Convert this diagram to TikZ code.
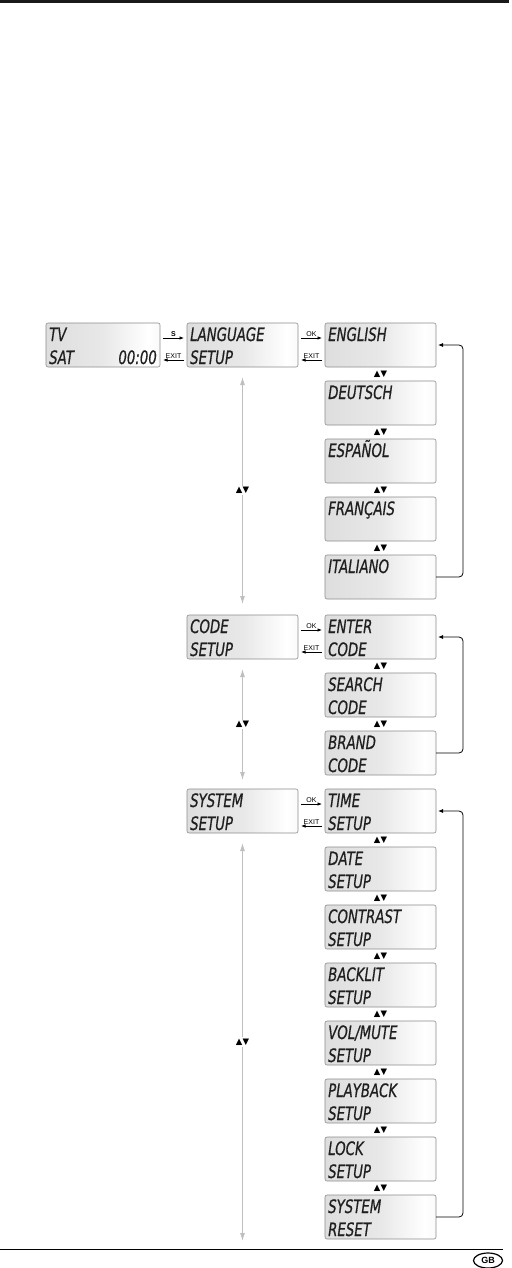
\documentclass[tikz,border=0pt]{standalone}
\usepackage{fontspec}
\setmainfont{Liberation Sans}
\newfontfamily\lcdfont[FakeStretch=0.72,FakeBold=0.6]{DejaVu Sans}
\newfontfamily\symfont{DejaVu Sans}
\usetikzlibrary{arrows.meta,shapes.geometric}
\pgfdeclarehorizontalshading{lcdshade}{100bp}{color(0bp)=(black!17); color(50bp)=(black!9); color(70bp)=(white); color(84bp)=(black!6); color(100bp)=(black!14)}
\tikzset{
  lcd/.style={draw=black!45, line width=0.6pt, rounded corners=2pt, shading=lcdshade,
    minimum width=111pt, minimum height=44pt, inner sep=0pt, outer sep=0pt, anchor=north west},
  lcdtext/.style={anchor=base west, inner sep=0pt, font=\lcdfont\itshape\fontsize{18.5}{18.5}\selectfont, text=black!88},
  updown/.style={inner sep=0pt, font=\symfont\fontsize{8.5}{8.5}\selectfont},
  keyarrow/.style={line width=0.7pt, -{Latex[length=4.5pt,width=3.5pt]}},
  keylabel/.style={inner sep=1pt, font=\fontsize{7}{7}\selectfont},
  grayarrow/.style={draw=black!25, line width=1pt, {Latex[length=8pt,width=5pt]}-{Latex[length=8pt,width=5pt]}},
  retarrow/.style={line width=0.8pt, rounded corners=4pt, -{Latex[length=5pt,width=4pt]}},
}
\newcommand\lcdbox[5]{%
  \node[lcd] (#1) at (#2,#3) {};
  \node[lcdtext] (#1-a) at ([shift={(3pt,-18pt)}]#1.north west) {#4};
  \node[lcdtext] (#1-b) at ([shift={(3pt,-41pt)}]#1.north west) {#5};
}
\newcommand\udlabel[2]{% name, box above
  \node[updown] (#1) at ([yshift=-7pt]#2.south) {▲▼};
}
\begin{document}
\begin{tikzpicture}[x=1pt,y=-1pt]
\useasboundingbox (0,0) rectangle (511,1268);
\fill[black!90] (0,0) rectangle (509,2.6);
% TV box
\node[lcd, minimum width=114pt] (tv) at (46,323) {};
\node[lcdtext] (tv-a) at ([shift={(3pt,-18pt)}]tv.north west) {TV};
\node[lcdtext] (tv-b) at ([shift={(3pt,-41pt)}]tv.north west) {SAT};
\node[lcdtext, anchor=base east] (tv-c) at ([shift={(-3pt,-41pt)}]tv.north east) {00:00};
% middle column
\lcdbox{lang}{187}{323}{LANGUAGE}{SETUP}
\lcdbox{code}{187}{615}{CODE}{SETUP}
\lcdbox{sys}{187}{789}{SYSTEM}{SETUP}
% right column: languages
\lcdbox{eng}{325}{323}{ENGLISH}{}
\lcdbox{deu}{325}{381}{DEUTSCH}{}
\lcdbox{esp}{325}{439}{ESPAÑOL}{}
\lcdbox{fra}{325}{497}{FRANÇAIS}{}
\lcdbox{ita}{325}{555}{ITALIANO}{}
\udlabel{ud1}{eng}\udlabel{ud2}{deu}\udlabel{ud3}{esp}\udlabel{ud4}{fra}
% codes
\lcdbox{ent}{325}{615}{ENTER}{CODE}
\lcdbox{sea}{325}{673}{SEARCH}{CODE}
\lcdbox{bra}{325}{731}{BRAND}{CODE}
\udlabel{ud5}{ent}\udlabel{ud6}{sea}
% system
\lcdbox{tim}{325}{789}{TIME}{SETUP}
\lcdbox{dat}{325}{847}{DATE}{SETUP}
\lcdbox{con}{325}{905}{CONTRAST}{SETUP}
\lcdbox{bac}{325}{963}{BACKLIT}{SETUP}
\lcdbox{vol}{325}{1021}{VOL/MUTE}{SETUP}
\lcdbox{pla}{325}{1079}{PLAYBACK}{SETUP}
\lcdbox{loc}{325}{1137}{LOCK}{SETUP}
\lcdbox{res}{325}{1195}{SYSTEM}{RESET}
\udlabel{ud7}{tim}\udlabel{ud8}{dat}\udlabel{ud9}{con}\udlabel{ud10}{bac}
\udlabel{ud11}{vol}\udlabel{ud12}{pla}\udlabel{ud13}{loc}
% key arrows
\draw[keyarrow] ([shift={(3pt,-15pt)}]tv.north east) -- node[keylabel, above, font=\bfseries\fontsize{7}{7}\selectfont] {S} ([shift={(-3pt,-15pt)}]lang.north west);
\draw[keyarrow] ([shift={(-3pt,-37pt)}]lang.north west) -- node[keylabel, above] {EXIT} ([shift={(3pt,-37pt)}]tv.north east);
\foreach \m/\r in {lang/eng, code/ent, sys/tim}{
  \draw[keyarrow] ([shift={(3pt,-15pt)}]\m.north east) -- node[keylabel, above] {OK} ([shift={(-3pt,-15pt)}]\r.north west);
  \draw[keyarrow] ([shift={(-3pt,-37pt)}]\r.north west) -- node[keylabel, above] {EXIT} ([shift={(3pt,-37pt)}]\m.north east);
}
% gray vertical arrows
\draw[grayarrow] ([yshift=-10pt]lang.south) -- node[updown, fill=white, inner sep=1.5pt] (ud14) {▲▼} ([yshift=11pt]code.north);
\draw[grayarrow] ([yshift=-10pt]code.south) -- node[updown, fill=white, inner sep=1.5pt] (ud15) {▲▼} ([yshift=9pt]sys.north);
\coordinate (sysend) at (242.5,1241);
\draw[grayarrow] ([yshift=-10pt]sys.south) -- node[updown, fill=white, inner sep=1.5pt] (ud16) {▲▼} (sysend);
% return arrows
\draw[retarrow] (ita.east) -- ++(27,0) |- ([xshift=2pt]eng.east);
\draw[retarrow] (bra.east) -- ++(27,0) |- ([xshift=2pt]ent.east);
\draw[retarrow] (res.east) -- ++(27,0) |- ([xshift=2pt]tim.east);
% footer
\draw[line width=0.7pt] (0,1249) -- (503,1249);
\node[draw, ellipse, line width=1.2pt, minimum width=29pt, minimum height=15pt, inner sep=0pt, font=\bfseries\fontsize{9}{9}\selectfont] (gb) at (488,1260.5) {GB};
\end{tikzpicture}
\end{document}
